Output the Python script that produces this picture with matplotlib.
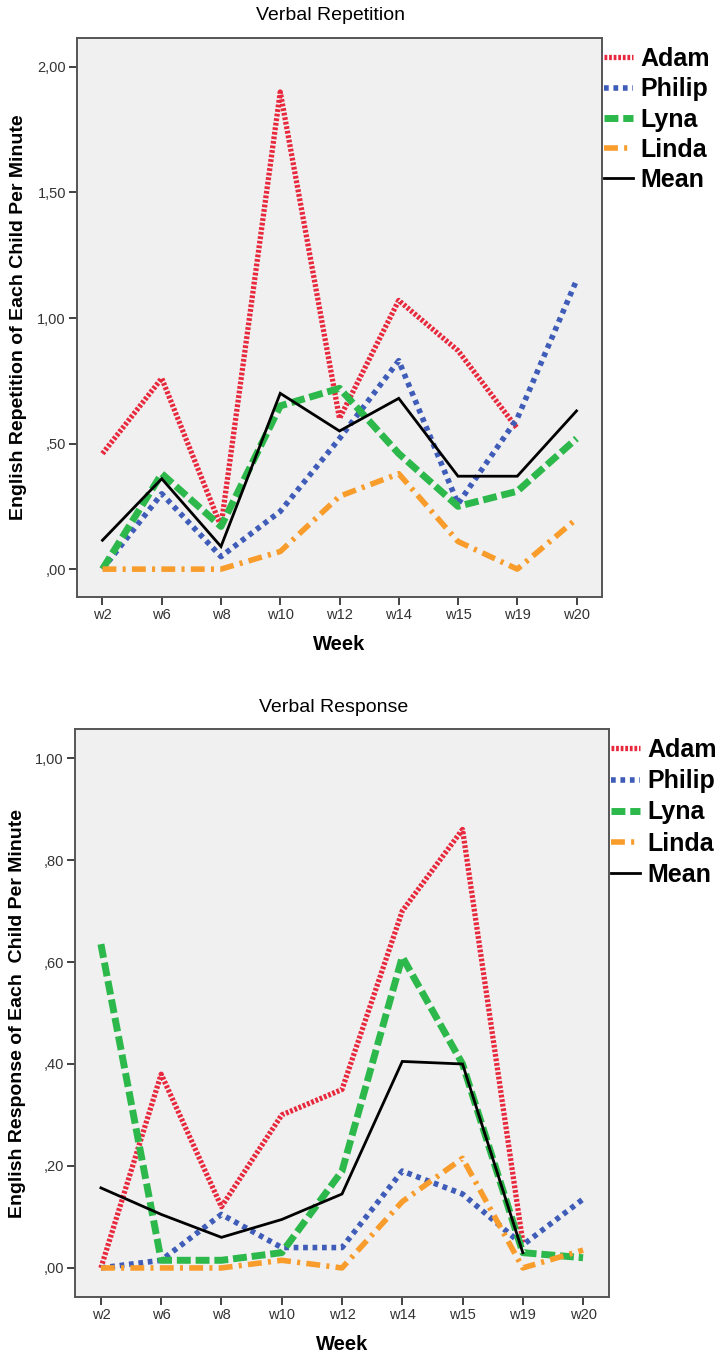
import matplotlib
matplotlib.use('Agg')
import matplotlib.pyplot as plt
import numpy as np

plt.rcParams['font.family'] = ['Liberation Sans', 'DejaVu Sans']
plt.rcParams['lines.scale_dashes'] = False

weeks = ['w2', 'w6', 'w8', 'w10', 'w12', 'w14', 'w15', 'w19', 'w20']
names = ['Adam', 'Philip', 'Lyna', 'Linda', 'Mean']

# Verbal Repetition (per minute)
rep_adam   = [0.46, 0.76, 0.17, 1.90, 0.60, 1.07, 0.87, 0.56, np.nan]
rep_philip = [0.00, 0.30, 0.05, 0.23, 0.52, 0.83, 0.26, 0.60, 1.15]
rep_lyna   = [0.00, 0.38, 0.17, 0.65, 0.72, 0.46, 0.25, 0.31, 0.52]
rep_linda  = [0.00, 0.00, 0.00, 0.07, 0.29, 0.38, 0.11, 0.00, 0.20]
rep_mean   = [0.115, 0.36, 0.09, 0.70, 0.55, 0.68, 0.37, 0.37, 0.63]

# Verbal Response (per minute)
res_adam   = [0.00, 0.38, 0.12, 0.30, 0.35, 0.70, 0.86, 0.05, np.nan]
res_philip = [0.00, 0.015, 0.105, 0.04, 0.04, 0.19, 0.145, 0.045, 0.135]
res_lyna   = [0.635, 0.015, 0.015, 0.03, 0.19, 0.61, 0.40, 0.03, 0.02]
res_linda  = [0.00, 0.00, 0.00, 0.015, 0.00, 0.13, 0.215, 0.00, 0.035]
res_mean   = [0.157, 0.105, 0.06, 0.095, 0.145, 0.405, 0.40, 0.03, np.nan]

rep_ticks = [0, 0.5, 1.0, 1.5, 2.0]
rep_ticklabels = [',00', ',50', '1,00', '1,50', '2,00']
res_ticks = [0, 0.2, 0.4, 0.6, 0.8, 1.0]
res_ticklabels = [',00', ',20', ',40', ',60', ',80', '1,00']

# colour, linewidth, dash pattern (points)
styles = [
    ('#e8283c', 3.8, (0, (2.0, 1.3))),
    ('#3e5cb8', 4.0, (0, (3.4, 3.4))),
    ('#2db84b', 5.0, (0, (10, 3.5))),
    ('#f89c2c', 4.0, (0, (10, 4.5, 2.2, 4.5))),
    ('#000000', 2.0, '-'),
]

W, H = 718, 1357
fig = plt.figure(figsize=(W / 100, H / 100), dpi=100)


def panel(rect, series, ticks, ticklabels, ylim, ylabel, title, title_xy, leg_xy, ylab_x, spacing):
    ax = fig.add_axes(rect)
    ax.set_facecolor('#f0f0f0')
    x = np.arange(len(weeks))
    handles = []
    for vals, (c, lw, ls), nm in zip(series, styles, names):
        h, = ax.plot(x, vals, color=c, lw=lw, linestyle=ls, label=nm,
                     solid_joinstyle='miter', dash_capstyle='butt')
        handles.append(h)
    ax.set_xlim(-0.43, len(weeks) - 1 + 0.43)
    ax.set_ylim(*ylim)
    ax.set_xticks(x)
    ax.set_xticklabels(weeks)
    ax.set_yticks(ticks)
    ax.set_yticklabels(ticklabels)
    ax.tick_params(direction='out', length=6, width=1.3, color='#333333',
                   labelcolor='#333333', labelsize=10.5, pad=2)
    for s in ax.spines.values():
        s.set_color('#555555')
        s.set_linewidth(1.4)
    ax.set_ylabel(ylabel, fontsize=14, fontweight='bold')
    ax.yaxis.set_label_coords(ylab_x, 0.5)
    ax.yaxis.label.set_va('center')
    ax.set_xlabel('Week', fontsize=14.5, fontweight='bold')
    ax.xaxis.set_label_coords(0.5, -48 / (rect[3] * H))
    ax.xaxis.label.set_va('center')
    fig.text(title_xy[0] / W, 1 - title_xy[1] / H, title, ha='center', va='center', fontsize=14)
    fig.legend(handles=handles, loc='upper left', bbox_to_anchor=(leg_xy[0] / W, 1 - leg_xy[1] / H),
               frameon=False, prop={'weight': 'bold', 'size': 18},
               handlelength=1.15, handletextpad=0.3, labelspacing=spacing,
               borderpad=0, borderaxespad=0)
    return ax


panel([77 / W, 1 - 597 / H, 525 / W, 559 / H],
      [rep_adam, rep_philip, rep_lyna, rep_linda, rep_mean],
      rep_ticks, rep_ticklabels, (-0.111, 2.115),
      'English Repetition of Each Child Per Minute', 'Verbal Repetition',
      (331, 16), (604, 47), -0.112, 0.25)

panel([75 / W, 1 - 1297 / H, 534 / W, 568 / H],
      [res_adam, res_philip, res_lyna, res_linda, res_mean],
      res_ticks, res_ticklabels, (-0.057, 1.057),
      'English Response of Each  Child Per Minute', 'Verbal Response',
      (334, 707), (611, 738), -0.107, 0.29)

fig.savefig('out.png', dpi=100, facecolor='white')
